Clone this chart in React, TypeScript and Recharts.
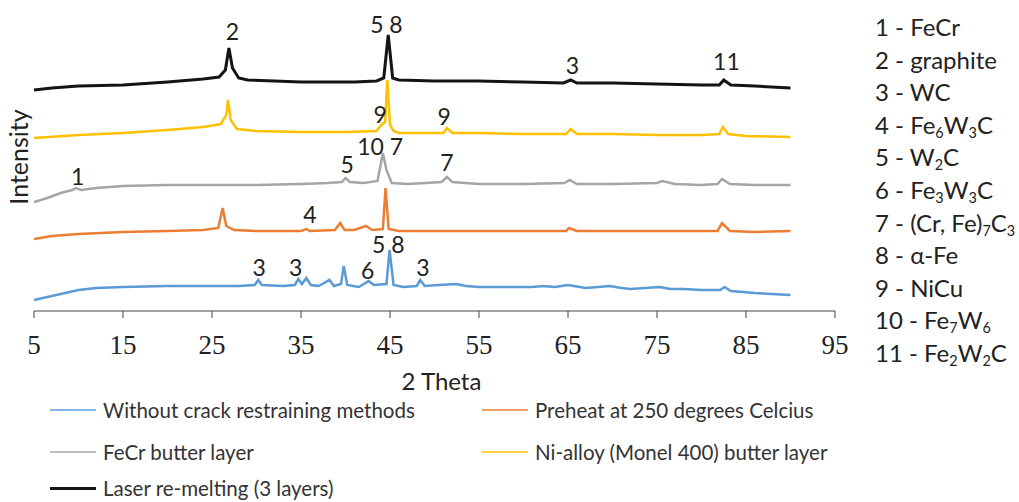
import React from "react";
import { LineChart, Line, XAxis, YAxis, Legend, ReferenceDot } from "recharts";

// ---- data (2θ in degrees, intensity in arbitrary offset units) ----
const blueX = [5, 7, 10, 12, 15, 20, 25, 28, 29.8, 30.2, 30.6, 33, 34.3, 34.7, 35.1, 35.6, 36.1, 37, 38.2, 38.7, 39.5, 39.8, 40.2, 41.5, 42.6, 43.2, 44.6, 44.95, 45.4, 46.5, 48, 48.4, 48.9, 50.5, 52.5, 53.5, 55, 58, 61, 62.2, 63.5, 65, 67, 69.7, 71, 72, 75.3, 76.5, 78, 80, 82.1, 82.6, 83.3, 86, 90];
const blueY = [11, 15, 21, 23, 24, 25, 25, 25, 26, 31, 26, 25, 26, 32, 27, 33, 26, 25, 31, 25, 27, 45, 26, 24, 30, 26, 27, 61, 26, 24, 25, 31, 25, 26, 27, 25, 24, 24, 24, 25, 24, 26, 23, 25, 23, 22, 24, 22, 22, 21, 21, 24, 20, 18, 16];

const orangeX = [5, 7, 10, 15, 20, 24, 25.7, 26.2, 26.6, 27.5, 30, 35, 35.6, 36, 38.8, 39.4, 39.9, 41, 42.3, 43, 44.2, 44.5, 44.85, 46, 50, 55, 60, 64.8, 65.1, 66, 70, 75, 80, 81.8, 82.3, 83.2, 86, 90];
const orangeY = [72, 75, 77, 79, 80, 81, 83, 103, 85, 81, 80, 80, 82, 80, 81, 88, 81, 81, 85, 81, 82, 123, 82, 80, 80, 80, 80, 80, 83, 80, 80, 80, 80, 80, 88, 80, 79, 80];

const grayX = [5, 6.5, 8, 9.3, 9.7, 10.3, 12, 15, 20, 25, 30, 35, 38, 39.6, 40, 40.5, 42, 43.6, 44.2, 44.6, 45.2, 47, 49, 50.8, 51.4, 52, 55, 60, 64.6, 65.2, 66, 70, 75, 75.6, 77, 80, 81.8, 82.3, 83.2, 86, 90];
const grayY = [109, 113, 118, 121, 123, 121, 123, 125, 126, 126, 126, 127, 128, 129, 133, 129, 128, 130, 158, 141, 128, 127, 128, 129, 134, 129, 127, 127, 128, 131, 127, 127, 128, 130, 127, 126, 127, 132, 127, 126, 126];

const yellowX = [5, 10, 15, 20, 24, 26, 26.6, 26.8, 27.1, 27.8, 30, 35, 40, 43.5, 44, 44.45, 44.7, 45, 45.4, 46, 50, 51, 51.4, 52, 55, 60, 64.8, 65.3, 66, 70, 75, 80, 82, 82.4, 83, 85, 90];
const yellowY = [173, 176, 178, 181, 184, 187, 196, 211, 191, 182, 180, 179, 179, 180, 186, 189, 231, 186, 180, 178, 178, 178, 183, 178, 178, 177, 177, 182, 177, 177, 176, 176, 177, 184, 177, 175, 174];

const blackX = [5, 7, 10, 15, 20, 24, 25.8, 26.5, 26.9, 27.3, 28, 29, 32, 35, 38, 41, 43.5, 44.3, 44.8, 45.3, 46, 50, 55, 60, 64.5, 65.3, 66, 70, 75, 80, 82, 82.5, 83.3, 86, 90];
const blackY = [221, 223, 225, 226, 229, 232, 234, 241, 263, 243, 233, 231, 230, 229, 229, 229, 230, 233, 276, 233, 231, 230, 230, 229, 228, 231, 228, 228, 227, 226, 226, 231, 226, 225, 223];

const seriesNames = [
  "Without crack restraining methods",
  "Preheat at 250 degrees Celcius",
  "FeCr butter layer",
  "Ni-alloy (Monel 400) butter layer",
  "Laser re-melting (3 layers)",
];
const seriesColors = ["#5B9BD5", "#ED7D31", "#A5A5A5", "#FFC000", "#141414"];

const xTicks = [5, 15, 25, 35, 45, 55, 65, 75, 85, 95];

// peak annotations: label, 2θ, intensity position
const annLabels = ["2", "5 8", "3", "11", "9", "9", "10 7", "5", "7", "1", "4", "5 8", "3", "3", "6", "3"];
const annX = [27.3, 44.6, 65.5, 82.8, 43.9, 51.1, 43.9, 40.2, 51.4, 9.9, 36.0, 44.8, 30.3, 34.4, 42.5, 48.7];
const annY = [279, 286, 245, 249, 196, 194, 164, 146, 148, 134, 96, 66, 43, 43, 40, 43];

const phaseNumbers = ["1", "2", "3", "4", "5", "6", "7", "8", "9", "10", "11"];
const phaseNames = ["FeCr", "graphite", "WC", "Fe{6}W{3}C", "W{2}C", "Fe{3}W{3}C", "(Cr, Fe){7}C{3}", "α-Fe", "NiCu", "Fe{7}W{6}", "Fe{2}W{2}C"];

const makeData = (xs: number[], ys: number[]) => xs.map((x, i) => ({ x, y: ys[i] }));
const seriesData = [
  makeData(blueX, blueY),
  makeData(orangeX, orangeY),
  makeData(grayX, grayY),
  makeData(yellowX, yellowY),
  makeData(blackX, blackY),
];

const renderFormula = (s: string) => {
  const parts = s.split(/\{(\d+)\}/);
  return parts.map((p, i) =>
    i % 2 === 1 ? (
      <sub key={i} style={{ fontSize: "0.6em", lineHeight: 0, verticalAlign: "-0.3em" }}>{p}</sub>
    ) : (
      <span key={i}>{p}</span>
    )
  );
};

const XTick = (props: any) => {
  const { x, y, payload } = props;
  return (
    <text x={x} y={y + 34} textAnchor="middle" fontFamily="'Liberation Serif', serif" fontSize={27} fill="#222">
      {payload.value}
    </text>
  );
};

const LegendContent = (props: any) => {
  const payload = [...(props.payload || [])].sort(
    (a: any, b: any) => seriesNames.indexOf(a.value) - seriesNames.indexOf(b.value)
  );
  const rowTops = [0, 42, 78];
  return (
    <div style={{ position: "relative", width: 1019, height: 100 }}>
      {payload.map((p: any, i: number) => {
        const col = i % 2;
        const row = Math.floor(i / 2);
        const dark = p.color === "#141414";
        return (
          <div
            key={i}
            style={{
              position: "absolute",
              left: col === 0 ? 50 : 482,
              top: rowTops[row],
              height: 20,
              display: "flex",
              alignItems: "center",
              whiteSpace: "nowrap",
            }}
          >
            <div style={{ width: 46, height: dark ? 3 : 2, background: p.color, opacity: dark ? 1 : 0.75 }} />
            <span style={{ marginLeft: 7, fontFamily: "Lato, sans-serif", fontSize: 20.5, color: "#333" }}>{p.value}</span>
          </div>
        );
      })}
    </div>
  );
};

export default function App() {
  return (
    <div style={{ position: "absolute", left: 0, top: 0, width: 1019, height: 502, background: "#fff", overflow: "hidden" }}>
      <LineChart width={1019} height={502} margin={{ top: 11, left: 34, right: 184, bottom: 111 }}>
        <XAxis
          dataKey="x"
          type="number"
          domain={[5, 95]}
          ticks={xTicks}
          allowDataOverflow
          height={80}
          tickSize={7}
          tickMargin={2}
          stroke="#444"
          tick={<XTick />}
          label={{ value: "2 Theta", position: "insideBottom", offset: 1, dx: 7, fill: "#222", fontSize: 24, fontFamily: "Lato, sans-serif" }}
        />
        <YAxis hide type="number" domain={[0, 300]} allowDataOverflow />
        {seriesData.map((d, i) => (
          <Line
            key={seriesNames[i]}
            data={d}
            dataKey="y"
            name={seriesNames[i]}
            stroke={seriesColors[i]}
            strokeWidth={i === 4 ? 3 : 2.5}
            dot={false}
            activeDot={false}
            type="linear"
            isAnimationActive={false}
          />
        ))}
        {annLabels.map((lab, i) => (
          <ReferenceDot
            key={i}
            x={annX[i]}
            y={annY[i]}
            r={0}
            ifOverflow="visible"
            shape={(p: any) => (
              <text x={p.cx} y={p.cy + 8} textAnchor="middle" fontFamily="Lato, sans-serif" fontSize={23} fill="#222">
                {lab.replace(" ", "\u00a0")}
              </text>
            )}
          />
        ))}
        <Legend layout="horizontal" verticalAlign="middle" wrapperStyle={{ left: 0, top: 400, width: 1019 }} content={<LegendContent />} />
      </LineChart>
      <div
        style={{
          position: "absolute",
          left: 18,
          top: 157,
          transform: "translate(-50%, -50%) rotate(-90deg)",
          fontFamily: "Lato, sans-serif",
          fontSize: 25,
          color: "#222",
          whiteSpace: "nowrap",
        }}
      >
        Intensity
      </div>
      {phaseNumbers.map((n, i) => (
        <div
          key={n}
          style={{
            position: "absolute",
            left: 875,
            top: 27 + 32.6 * i - 15,
            height: 30,
            lineHeight: "30px",
            fontFamily: "Lato, sans-serif",
            fontSize: 24,
            color: "#222",
            whiteSpace: "nowrap",
          }}
        >
          {n} - {renderFormula(phaseNames[i])}
        </div>
      ))}
    </div>
  );
}
